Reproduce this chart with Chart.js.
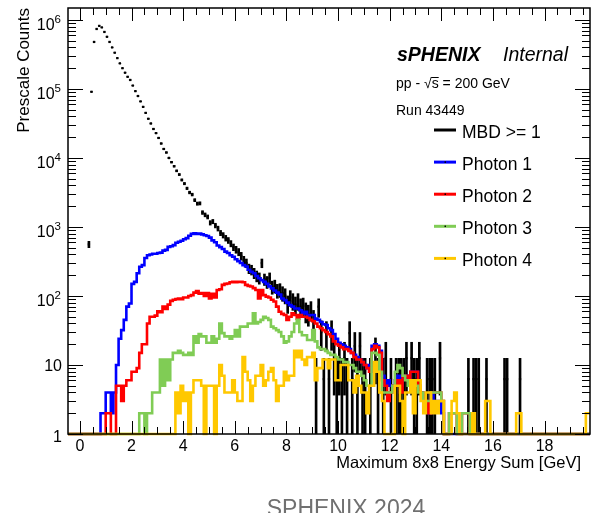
<!DOCTYPE html>
<html>
<head>
<meta charset="utf-8">
<script src="https://cdn.jsdelivr.net/npm/chart.js@4.4.1/dist/chart.umd.min.js"></script>
<style>
  html, body { margin: 0; padding: 0; background: #fff; overflow: hidden; }
  #wrap { position: relative; width: 594px; height: 513px; }
</style>
</head>
<body>
<div id="wrap"><canvas id="trig"></canvas></div>
<script>
// Histograms use 0.1 GeV bins; each series lists its counts from bin index *Start on.
const binWidth = 0.1;
const xRange = [-0.46, 19.76];
const yRange = [1, 1.49e6];
const xTickLabels = [0, 2, 4, 6, 8, 10, 12, 14, 16, 18];
const yTickLabels = [1, 10, 1e2, 1e3, 1e4, 1e5, 1e6];

const seriesNames = ['MBD >= 1', 'Photon 1', 'Photon 2', 'Photon 3', 'Photon 4'];
const seriesColors = ['#000000', '#0000ff', '#ff0000', '#80cc55', '#ffc800'];

// MBD >= 1, prescaled (weight per event)
const mbdPrescale = 6.25;
const mbdStart = 3;
const mbdCounts = [
  560, 91000, 480000, 740000, 820000, 780000, 670000, 570000, 480000, 400000,
  335000, 280000, 235000, 200000, 172000, 150000, 135000, 112000, 93000, 79000,
  66000, 55000, 45000, 37000, 31600, 26300, 22900, 19500, 16200, 13500,
  12000, 10000, 8700, 7600, 6500, 5750, 4800, 4250, 3630, 3160,
  2950, 2450, 2180, 2200, 1620, 1500, 1400, 1150, 1200, 1050,
  950, 820, 760, 690, 640, 575, 510, 470, 435, 380,
  330, 300, 250, 240, 215, 195, 182, 300, 175, 160,
  182, 135, 140, 120, 123, 110, 102, 78, 95, 85,
  75, 85, 70, 72, 60, 55, 63, 45, 6.25, 70,
  30, 6.25, 29, 6.25, 30, 12.5, 6.25, 12.5, 6.25, 12.5,
  6.25, 29, 6.25, 18.75, 6.25, 18.75, 6.25, 6.25, 0, 6.25,
  0, 15, 6.25, 0, 6.25, 12.5, 0, 6.25, 0, 6.25,
  6.25, 6.25, 6.25, 12.5, 0, 12.5, 6.25, 6.25, 12.5, 0,
  0, 6.25, 6.25, 6.25, 6.25, 0, 12.5, 0, 0, 0,
  0, 0, 0, 0, 0, 0, 0, 6.25, 0, 6.25,
  6.25, 6.25, 0, 0, 6.25, 0, 0, 0, 0, 0,
  0, 6.25, 6.25, 0, 0, 0, 0, 6.25
];

const photon1Start = 8;
const photon1Counts = [
  2, 2, 4, 4, 2, 4, 10, 24, 32, 45,
  70, 78, 150, 160, 214, 265, 280, 355, 390, 400,
  410, 410, 420, 425, 455, 465, 515, 525, 545, 590,
  610, 630, 665, 690, 745, 795, 810, 790, 800, 780,
  760, 740, 700, 640, 600, 540, 510, 480, 440, 420,
  390, 370, 340, 320, 300, 280, 268, 240, 225, 213,
  195, 181, 170, 160, 150, 138, 129, 120, 112, 105,
  92, 87, 80, 74, 70, 66, 66, 62, 56, 59,
  50, 53, 53, 47, 45, 42, 39, 38, 34, 32,
  28, 24, 21, 20, 19, 18, 17, 15, 14, 13,
  12, 11, 10, 9, 10, 19, 20, 19, 16, 7,
  5, 6, 5, 5, 6, 7, 5, 7, 7, 6,
  8, 8, 8, 5, 4, 3, 3, 2, 4, 3,
  3, 3, 2
];

const photon2Start = 10;
const photon2Counts = [
  2, 2, 0, 0, 5, 5, 3, 5, 6, 6,
  8, 8, 9, 15, 20, 20, 40, 50, 50, 52,
  60, 58, 70, 65, 75, 85, 88, 90, 92, 90,
  95, 95, 100, 103, 112, 118, 108, 110, 100, 110,
  92, 108, 95, 122, 125, 145, 150, 152, 158, 161,
  158, 161, 160, 158, 145, 140, 137, 130, 122, 92,
  122, 103, 98, 95, 88, 83, 70, 59, 55, 53,
  45, 50, 56, 53, 47, 53, 50, 50, 48, 45,
  43, 40, 36, 34, 32, 30, 28, 26, 22, 20,
  19, 18, 17, 17, 16, 15, 13, 12, 12, 11,
  10, 9, 8, 17, 19, 18, 15, 6, 5, 3,
  4, 5, 5, 6, 4, 7, 7, 6, 8, 8,
  8, 5, 4, 3, 3, 2, 4, 4, 4, 4,
  3, 1, 1, 2, 2, 2, 1, 1, 2, 2, 2
];

const photon3Start = 23;
const photon3Counts = [
  2, 2, 0, 2, 2, 4, 4, 4, 12, 5,
  12, 6, 12, 15, 15, 16, 15, 14, 14, 15,
  14, 26, 21, 28, 26, 26, 21, 21, 26, 21,
  24, 40, 29, 26, 26, 24, 26, 32, 26, 36,
  36, 36, 40, 40, 56, 40, 42, 45, 50, 48,
  45, 36, 34, 32, 30, 26, 21, 22, 26, 30,
  40, 45, 30, 27, 27, 23, 23, 32, 22, 18,
  17, 17, 16, 15, 14, 14, 13, 12, 12, 11,
  11, 10, 10, 9, 8, 8, 7, 6, 5, 5,
  15, 15, 14, 8, 4, 4, 4, 4, 5, 8,
  10, 9, 7, 6, 5, 5, 6, 5, 4, 4,
  3, 3, 3, 4, 4, 4, 4, 3, 1, 1,
  2, 2, 2, 1, 1, 2, 2, 2
];

const photon4Start = 37;
const photon4Counts = [
  4, 2, 5, 3, 4, 1, 4, 6, 6, 6,
  5, 0, 5, 5, 5, 0, 5, 10, 7, 4,
  4, 4, 6, 4, 3, 3, 13, 8, 6, 3,
  5, 7, 7, 10, 5, 6, 8, 9, 6, 3,
  5, 5, 8, 6, 7, 7, 16, 13, 16, 12,
  10, 13, 13, 15, 6, 9, 9, 12, 12, 9,
  12, 12, 6, 6, 10, 10, 10, 6, 6, 4,
  7, 5, 4, 4, 2, 5, 5, 11, 8, 4,
  3, 0, 0, 0, 0, 5, 5, 3, 0, 4,
  4, 6, 2, 6, 6, 3, 2, 4, 4, 2,
  3, 2, 3, 3, 0, 0, 0, 3, 4, 2,
  0, 0, 0, 0, 0, 2, 0, 0, 0, 0,
  3, 3, 0, 0, 0, 0, 0, 0, 0, 0,
  0, 0, 2, 2, 0, 0, 0, 0, 0, 0,
  0, 0, 0, 0, 0, 0, 0, 0, 0, 0,
  0, 0, 0, 0, 0, 0, 0, 0, 0, 2, 2
];

const FONT = '"Liberation Sans", Arial, Helvetica, sans-serif';

// step outline over the whole axis; empty bins sit on the axis floor like ROOT draws them
function histPoints(start, counts) {
  const pts = [];
  const first = Math.floor(xRange[0] / binWidth) - 1;
  const last = Math.ceil(xRange[1] / binWidth) + 1;
  for (let i = first; i <= last; i++) {
    const k = i - start;
    const v = k >= 0 && k < counts.length ? counts[k] : 0;
    pts.push({ x: i * binWidth, y: Math.max(v, yRange[0]) });
  }
  return pts;
}

function histDataset(idx, start, counts, order) {
  return {
    type: 'line',
    label: seriesNames[idx],
    data: histPoints(start, counts),
    borderColor: seriesColors[idx],
    borderWidth: 2.6,
    stepped: true,
    pointRadius: 0,
    fill: false,
    order,
    clip: { left: 0, top: 0, right: 0, bottom: 2 }
  };
}

const mbdPoints = [];
const mbdErrors = [];
mbdCounts.forEach((v, k) => {
  if (v <= 0) return;
  const x = (mbdStart + k + 0.5) * binWidth;
  const err = Math.sqrt(mbdPrescale * v);
  mbdPoints.push({ x, y: v });
  mbdErrors.push({ x, y: [Math.max(yRange[0], v - err), v + err] });
});

const datasets = [
  histDataset(4, photon4Start, photon4Counts, 0),
  histDataset(3, photon3Start, photon3Counts, 1),
  histDataset(2, photon2Start, photon2Counts, 2),
  histDataset(1, photon1Start, photon1Counts, 3),
  {
    type: 'line', label: seriesNames[0], data: mbdPoints, showLine: false,
    pointStyle: 'rect', pointRadius: 1.6, pointBackgroundColor: '#000',
    pointBorderWidth: 0, order: 4
  },
  {
    type: 'bar', label: 'MBD errors', data: mbdErrors, backgroundColor: '#000',
    barThickness: 2, grouped: false, borderWidth: 0, order: 5
  }
];

// frame with inward ticks on all sides, y labels with exponents, text and legend
const rootStyle = {
  id: 'rootStyle',
  afterDatasetsDraw(chart) {
    const { ctx, chartArea: a, scales } = chart;
    const xs = scales.x, ys = scales.y;
    ctx.save();
    ctx.strokeStyle = '#000';
    ctx.lineWidth = 1;
    ctx.beginPath();
    for (let d = 0; d <= 6; d++) {
      for (let k = 1; k <= 9; k++) {
        const v = k * Math.pow(10, d);
        if (v > ys.max) break;
        const py = Math.round(ys.getPixelForValue(v)) + 0.5;
        const len = k === 1 ? 15 : 8;
        ctx.moveTo(a.left, py); ctx.lineTo(a.left + len, py);
        ctx.moveTo(a.right, py); ctx.lineTo(a.right - len, py);
      }
    }
    for (let j = 0; j * 0.5 <= xs.max; j++) {
      const px = Math.round(xs.getPixelForValue(j * 0.5)) + 0.5;
      const len = j % 4 === 0 ? 13 : 7;
      ctx.moveTo(px, a.bottom); ctx.lineTo(px, a.bottom - len);
      ctx.moveTo(px, a.top); ctx.lineTo(px, a.top + len);
    }
    ctx.stroke();
    ctx.lineWidth = 1.5;
    ctx.strokeRect(a.left, a.top, a.right - a.left, a.bottom - a.top);
    ctx.restore();
  },
  afterDraw(chart) {
    const { ctx, scales } = chart;
    const ys = scales.y;
    ctx.save();
    ctx.fillStyle = '#000';
    ctx.textBaseline = 'alphabetic';

    // y tick labels: 1, 10, then 10^n
    ctx.textAlign = 'right';
    yTickLabels.forEach(v => {
      const d = Math.round(Math.log10(v));
      const py = ys.getPixelForValue(v);
      if (d < 2) {
        ctx.font = `16px ${FONT}`;
        ctx.fillText(String(v), 62, py + (d === 0 ? 8 : 6));
      } else {
        ctx.font = `11.5px ${FONT}`;
        const ew = ctx.measureText(String(d)).width;
        ctx.fillText(String(d), 61, py + 3.5);
        ctx.font = `16px ${FONT}`;
        ctx.fillText('10', 61 - ew, py + 10);
      }
    });

    // axis titles
    ctx.font = `16.5px ${FONT}`;
    ctx.fillText('Maximum 8x8 Energy Sum [GeV]', 581, 467.5);
    ctx.save();
    ctx.translate(28.5, 8);
    ctx.rotate(-Math.PI / 2);
    ctx.font = `17px ${FONT}`;
    ctx.fillText('Prescale Counts', 0, 0);
    ctx.restore();

    // label block
    ctx.textAlign = 'left';
    ctx.font = `italic bold 19.5px ${FONT}`;
    ctx.fillText('sPHENIX', 397, 61);
    ctx.font = `italic 19.5px ${FONT}`;
    ctx.fillText('Internal', 503, 61);

    ctx.font = `14px ${FONT}`;
    const pre = 'pp - \u221A';
    ctx.fillText(pre, 396, 88);
    const sx = 396 + ctx.measureText(pre).width;
    ctx.fillText('s', sx, 88);
    const sw = ctx.measureText('s').width;
    ctx.beginPath();
    ctx.lineWidth = 1;
    ctx.strokeStyle = '#000';
    ctx.moveTo(sx - 0.5, 77.5);
    ctx.lineTo(sx + sw, 77.5);
    ctx.stroke();
    ctx.fillText(' = 200 GeV', sx + sw, 88);
    ctx.fillText('Run 43449', 396, 115);

    // legend
    seriesNames.forEach((name, i) => {
      const yy = 130 + i * 32.1;
      ctx.beginPath();
      ctx.strokeStyle = seriesColors[i];
      ctx.lineWidth = 3;
      ctx.moveTo(434, yy);
      ctx.lineTo(456, yy);
      ctx.stroke();
      if (i > 0) {
        ctx.fillStyle = '#000';
        ctx.fillRect(444.5, yy - 0.75, 1.5, 1.5);
      }
      ctx.fillStyle = '#000';
      ctx.font = `17.5px ${FONT}`;
      ctx.fillText(name, 462, yy + 7.5);
    });

    // footer
    ctx.textAlign = 'center';
    ctx.fillStyle = '#707070';
    ctx.font = `23px ${FONT}`;
    ctx.fillText('SPHENIX 2024', 346, 516);
    ctx.restore();
  }
};

new Chart(document.getElementById('trig'), {
  type: 'line',
  data: { datasets },
  options: {
    responsive: true,
    maintainAspectRatio: false,
    animation: false,
    events: [],
    layout: { padding: { top: 8, right: 1, left: 0, bottom: 0 } },
    plugins: { legend: { display: false }, tooltip: { enabled: false } },
    scales: {
      x: {
        type: 'linear',
        min: xRange[0],
        max: xRange[1],
        offset: false,
        grid: { display: false, drawTicks: false },
        border: { display: false },
        afterBuildTicks: s => { s.ticks = xTickLabels.map(v => ({ value: v })); },
        afterFit: s => { s.height = 79; },
        ticks: {
          font: { family: FONT, size: 16 },
          color: '#000',
          padding: 3,
          maxRotation: 0,
          autoSkip: false,
          callback: v => String(v)
        }
      },
      y: {
        type: 'logarithmic',
        min: yRange[0],
        max: yRange[1],
        grid: { display: false, drawTicks: false },
        border: { display: false },
        afterBuildTicks: s => { s.ticks = yTickLabels.map(v => ({ value: v })); },
        afterFit: s => { s.width = 68; },
        ticks: { display: false }
      }
    }
  },
  plugins: [rootStyle]
});
</script>
</body>
</html>
